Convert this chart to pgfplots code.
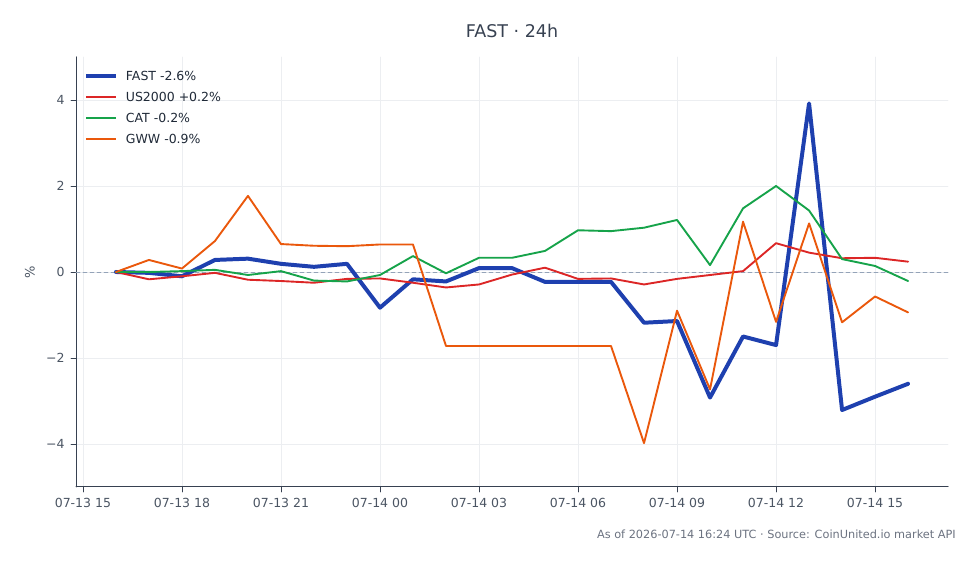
\documentclass[border=0pt]{standalone}
\usepackage{fontspec}
\setmainfont{DejaVu Sans}
\usepackage{pgfplots}
\pgfplotsset{compat=1.18}

\definecolor{fastblue}{HTML}{1E40AF}
\definecolor{usred}{HTML}{DC2626}
\definecolor{catgreen}{HTML}{16A34A}
\definecolor{gwworange}{HTML}{EA580C}
\definecolor{axisline}{HTML}{374151}
\definecolor{ticktext}{HTML}{4B5563}
\definecolor{titletext}{HTML}{374151}
\definecolor{gridgray}{HTML}{ECEEF1}
\definecolor{zeroline}{HTML}{94A3B8}
\definecolor{notegray}{HTML}{6B7280}
\definecolor{legendtext}{HTML}{1F2937}

% hours since 07-13 15:00, percent change
\begin{document}
\begin{tikzpicture}[x=1bp,y=1bp]
\path[use as bounding box] (0,0) rectangle (980,564);
\begin{axis}[
  at={(76bp,77bp)}, anchor=south west,
  scale only axis, width=872bp, height=430bp,
  xmin=-0.21, xmax=26.21, ymin=-5, ymax=5,
  axis lines*=left,
  axis line style={axisline, line width=1pt},
  every tick/.style={axisline, line width=0.8pt},
  tick align=outside, major tick length=5bp,
  xtick={0,3,...,24},
  xticklabels={07-13 15,07-13 18,07-13 21,07-14 00,07-14 03,07-14 06,07-14 09,07-14 12,07-14 15},
  ytick={-4,-2,0,2,4},
  yticklabels={−4,−2,0,2,4},
  tick label style={font=\fontsize{12.5bp}{15bp}\selectfont, text=ticktext},
  xticklabel style={yshift=-3bp},
  yticklabel style={xshift=-3bp},
  /pgf/number format/assume math mode=true,
  grid=major,
  major grid style={gridgray, line width=0.8pt},
  ylabel={\%},
  ylabel style={at={(axis description cs:-0.0528,0.5)}, anchor=center, font=\fontsize{13bp}{15bp}\selectfont, text=ticktext},
  title={FAST · 24h},
  title style={at={(axis description cs:0.5,1)}, anchor=center, yshift=20bp, font=\fontsize{17.5bp}{20bp}\selectfont, text=titletext},
  legend style={at={(axis description cs:0.006,0.976)}, anchor=north west, draw=none, fill=none,
    font=\fontsize{12.5bp}{15bp}\selectfont, text=legendtext, row sep=7.2bp,
    nodes={inner sep=1.5bp}},
  legend cell align=left,
  legend image code/.code={\draw[#1] (0bp,0bp) -- (30bp,0bp); \path (36bp,0bp);},
  line join=round, line cap=round,
  clip mode=individual,
]
\draw[zeroline, line width=0.9pt, dash pattern=on 4bp off 3bp] (axis cs:-0.21,0) -- (axis cs:26.21,0);

\addplot[fastblue, line width=4pt, mark=none] coordinates {
(1,0) (2,-0.02) (3,-0.10) (4,0.28) (5,0.31) (6,0.19) (7,0.12) (8,0.19) (9,-0.83)
(10,-0.17) (11,-0.22) (12,0.09) (13,0.09) (14,-0.23) (15,-0.23) (16,-0.23)
(17,-1.18) (18,-1.14) (19,-2.92) (20,-1.50) (21,-1.70) (22,3.92) (23,-3.21)
(24,-2.90) (25,-2.60)};
\addlegendentry{FAST -2.6\%}

\addplot[usred, line width=1.9pt, mark=none] coordinates {
(1,0) (2,-0.17) (3,-0.10) (4,-0.02) (5,-0.18) (6,-0.21) (7,-0.25) (8,-0.16) (9,-0.15)
(10,-0.25) (11,-0.36) (12,-0.29) (13,-0.06) (14,0.10) (15,-0.16) (16,-0.15)
(17,-0.29) (18,-0.16) (19,-0.07) (20,0.02) (21,0.67) (22,0.45) (23,0.32)
(24,0.33) (25,0.24)};
\addlegendentry{US2000 +0.2\%}

\addplot[catgreen, line width=1.9pt, mark=none] coordinates {
(1,0) (2,0) (3,0.02) (4,0.05) (5,-0.07) (6,0.02) (7,-0.20) (8,-0.22) (9,-0.07)
(10,0.37) (11,-0.03) (12,0.33) (13,0.33) (14,0.49) (15,0.97) (16,0.95)
(17,1.03) (18,1.21) (19,0.16) (20,1.48) (21,2.00) (22,1.43) (23,0.30)
(24,0.14) (25,-0.21)};
\addlegendentry{CAT -0.2\%}

\addplot[gwworange, line width=1.9pt, mark=none] coordinates {
(1,0) (2,0.28) (3,0.08) (4,0.72) (5,1.77) (6,0.65) (7,0.61) (8,0.60) (9,0.64)
(10,0.64) (11,-1.72) (12,-1.72) (13,-1.72) (14,-1.72) (15,-1.72) (16,-1.72)
(17,-3.98) (18,-0.90) (19,-2.73) (20,1.17) (21,-1.16) (22,1.13) (23,-1.17)
(24,-0.57) (25,-0.94)};
\addlegendentry{GWW -0.9\%}
\end{axis}
\node[anchor=east, inner sep=0pt, font=\fontsize{11.3bp}{13bp}\selectfont, text=notegray] at (956,30)
  {As of 2026-07-14 16:24 UTC · Source: CoinUnited.io market API};
\end{tikzpicture}
\end{document}
